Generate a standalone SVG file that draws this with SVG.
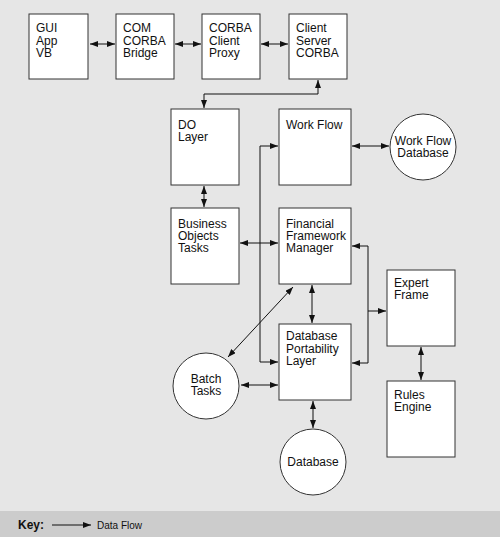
<svg xmlns="http://www.w3.org/2000/svg" width="500" height="539" viewBox="0 0 500 539">
<defs>
<marker id="ah" viewBox="0 0 8 6" refX="8" refY="3" markerWidth="8" markerHeight="6" markerUnits="userSpaceOnUse" orient="auto-start-reverse">
<path d="M0,0 L8,3 L0,6 Z" fill="#111"/>
</marker>
</defs>
<style>
.box{fill:#fff;stroke:#333;stroke-width:1}
.t{font-family:"Liberation Sans",Arial,sans-serif;font-size:12px;fill:#111}
.c{text-anchor:middle}
.ln{fill:none;stroke:#111;stroke-width:1}
.bi{marker-start:url(#ah);marker-end:url(#ah)}
.uni{marker-end:url(#ah)}
</style>
<rect x="0" y="0" width="500" height="511" fill="#e6e6e6"/>
<rect x="0" y="511" width="500" height="26" fill="#cccccc"/>
<rect x="0" y="537" width="500" height="2" fill="#fff"/>

<g id="connectors">
<line class="ln bi" x1="90" y1="44" x2="115" y2="44"/>
<line class="ln bi" x1="175" y1="44" x2="201" y2="44"/>
<line class="ln bi" x1="261" y1="44" x2="288" y2="44"/>
<polyline class="ln bi" points="318,80 318,94 204,94 204,108"/>
<line class="ln bi" x1="352" y1="146" x2="389" y2="146"/>
<polyline class="ln uni" points="260,146 278,146"/>
<polyline class="ln uni" points="260,146 260,362 278,362"/>
<line class="ln bi" x1="204" y1="186" x2="204" y2="207"/>
<line class="ln bi" x1="240" y1="243" x2="278" y2="243"/>
<polyline class="ln uni" points="368,311 368,246 352,246"/>
<polyline class="ln uni" points="368,311 368,363 352,363"/>
<line class="ln uni" x1="368" y1="311" x2="386" y2="311"/>
<line class="ln bi" x1="312" y1="285" x2="312" y2="323"/>
<line class="ln bi" x1="293" y1="287" x2="228" y2="357"/>
<line class="ln bi" x1="241" y1="385" x2="278" y2="385"/>
<line class="ln bi" x1="313" y1="401" x2="313" y2="428"/>
<line class="ln bi" x1="421" y1="347" x2="421" y2="380"/>
</g>

<g id="gui"><rect class="box" x="29" y="14" width="59" height="65"/>
<text class="t" x="36" y="32">GUI</text><text class="t" x="36" y="44.5">App</text><text class="t" x="36" y="57">VB</text></g>
<g id="com"><rect class="box" x="116" y="14" width="58" height="65"/>
<text class="t" x="123" y="32">COM</text><text class="t" x="123" y="44.5">CORBA</text><text class="t" x="123" y="57">Bridge</text></g>
<g id="proxy"><rect class="box" x="202" y="14" width="58" height="65"/>
<text class="t" x="209" y="32">CORBA</text><text class="t" x="209" y="44.5">Client</text><text class="t" x="209" y="57">Proxy</text></g>
<g id="server"><rect class="box" x="289" y="14" width="58" height="65"/>
<text class="t" x="296" y="32">Client</text><text class="t" x="296" y="44.5">Server</text><text class="t" x="296" y="57">CORBA</text></g>

<g id="do"><rect class="box" x="171" y="109" width="68" height="76"/>
<text class="t" x="178" y="129">DO</text><text class="t" x="178" y="141">Layer</text></g>
<g id="workflow"><rect class="box" x="279" y="109" width="72" height="76"/>
<text class="t" x="286" y="129">Work Flow</text></g>
<g id="wfdb"><circle class="box" cx="423" cy="147" r="33"/>
<text class="t c" x="423" y="145">Work Flow</text><text class="t c" x="423" y="157">Database</text></g>

<g id="bot"><rect class="box" x="171" y="208" width="68" height="76"/>
<text class="t" x="178" y="228">Business</text><text class="t" x="178" y="240">Objects</text><text class="t" x="178" y="252">Tasks</text></g>
<g id="ffm"><rect class="box" x="279" y="208" width="72" height="76"/>
<text class="t" x="286" y="228">Financial</text><text class="t" x="286" y="240">Framework</text><text class="t" x="286" y="252">Manager</text></g>

<g id="expert"><rect class="box" x="387" y="270" width="68" height="76"/>
<text class="t" x="394" y="287">Expert</text><text class="t" x="394" y="299">Frame</text></g>

<g id="dpl"><rect class="box" x="279" y="324" width="72" height="76"/>
<text class="t" x="286" y="340">Database</text><text class="t" x="286" y="352.5">Portability</text><text class="t" x="286" y="365">Layer</text></g>

<g id="batch"><circle class="box" cx="206" cy="386" r="33"/>
<text class="t c" x="206" y="383">Batch</text><text class="t c" x="206" y="395">Tasks</text></g>

<g id="rules"><rect class="box" x="387" y="381" width="68" height="76"/>
<text class="t" x="394" y="399">Rules</text><text class="t" x="394" y="411">Engine</text></g>

<g id="database"><circle class="box" cx="313" cy="462" r="33"/>
<text class="t c" x="313" y="466">Database</text></g>

<g id="key">
<text class="t" x="18" y="529" style="font-weight:bold">Key:</text>
<line class="ln uni" x1="52" y1="525" x2="91" y2="525"/>
<text x="97" y="529" style="font-family:'Liberation Sans',Arial,sans-serif;font-size:10px;fill:#111">Data Flow</text>
</g>
</svg>
